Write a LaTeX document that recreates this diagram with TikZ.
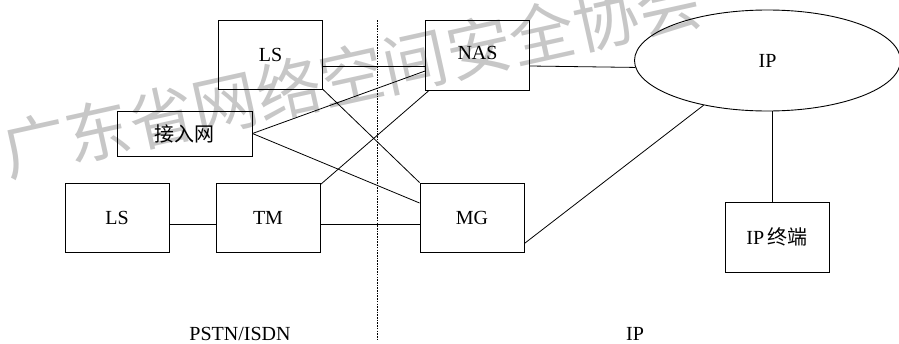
\documentclass[tikz,border=0pt]{standalone}
\usepackage{fontspec}
\setmainfont{Liberation Serif}
\newfontfamily\cjk{Noto Sans CJK SC}
\usetikzlibrary{shapes.geometric}
\begin{document}
\begin{tikzpicture}[x=1pt,y=-1pt,
  box/.style={draw,line width=0.9pt,minimum width=104pt,minimum height=69pt,inner sep=0pt,font=\fontsize{20}{20}\selectfont},
  link/.style={line width=0.8pt},
  lbl/.style={font=\fontsize{20}{20}\selectfont,anchor=base,inner sep=0pt}]
\useasboundingbox (0,0) rectangle (899,343);
% watermark
\node[anchor=base west,rotate=12.5,inner sep=0pt,text=black!22,font=\cjk\fontsize{65}{65}\selectfont] (wm) at (8,177) {广东省网络空间安全协会};
% nodes
\node[box] (ls1) at (270.5,54.5) {LS};
\node[box,minimum width=135pt,minimum height=45pt] (an) at (184.5,133.5) {\cjk 接入网};
\node[box,minimum height=70pt] (nas) at (477.5,55) {\raisebox{5pt}{NAS}};
\node[draw,line width=0.9pt,ellipse,minimum width=266pt,minimum height=101pt,inner sep=0pt,font=\fontsize{20}{20}\selectfont] (ip) at (767.5,60.5) {IP};
\node[box] (ls2) at (117,217.5) {LS};
\node[box] (tm) at (268,217.5) {TM};
\node[box] (mg) at (472,217.5) {MG};
\node[box,minimum height=70pt] (ipt) at (777,237) {IP\,{\cjk 终端}};
% divider
\coordinate (dtop) at (377,20);
\coordinate (dbot) at (377,340);
\draw[line width=0.9pt,dash pattern=on 1.6pt off 1.1pt] (dtop) -- (dbot);
% connectors
\draw[link] ([yshift=-11.5pt]ls1.east) -- ([yshift=-11pt]nas.west);
\draw[link] ([yshift=-11pt]nas.east) -- (ip.183);
\draw[link] (an.east) -- ([yshift=-16pt]nas.west);
\draw[link] (an.east) -- ([yshift=14.5pt]mg.west);
\draw[link] (ls1.south east) -- (mg.north west);
\draw[link] ([xshift=4pt]nas.south west) -- ([yshift=-2pt]tm.north east);
\draw[link] ([yshift=-6.5pt]ls2.east) -- ([yshift=-6.5pt]tm.west);
\draw[link] ([yshift=-6.5pt]tm.east) -- ([yshift=-6.5pt]mg.west);
\draw[link] ([yshift=9pt]mg.south east) -- (ip.215);
\coordinate (v) at ([xshift=-5pt]ipt.north);
\draw[link] (v) -- (v |- ip.south);
% region labels
\node[lbl] (pstn) at (240,340) {PSTN/ISDN};
\node[lbl] (iplbl) at (635,340) {IP};
\end{tikzpicture}
\end{document}
